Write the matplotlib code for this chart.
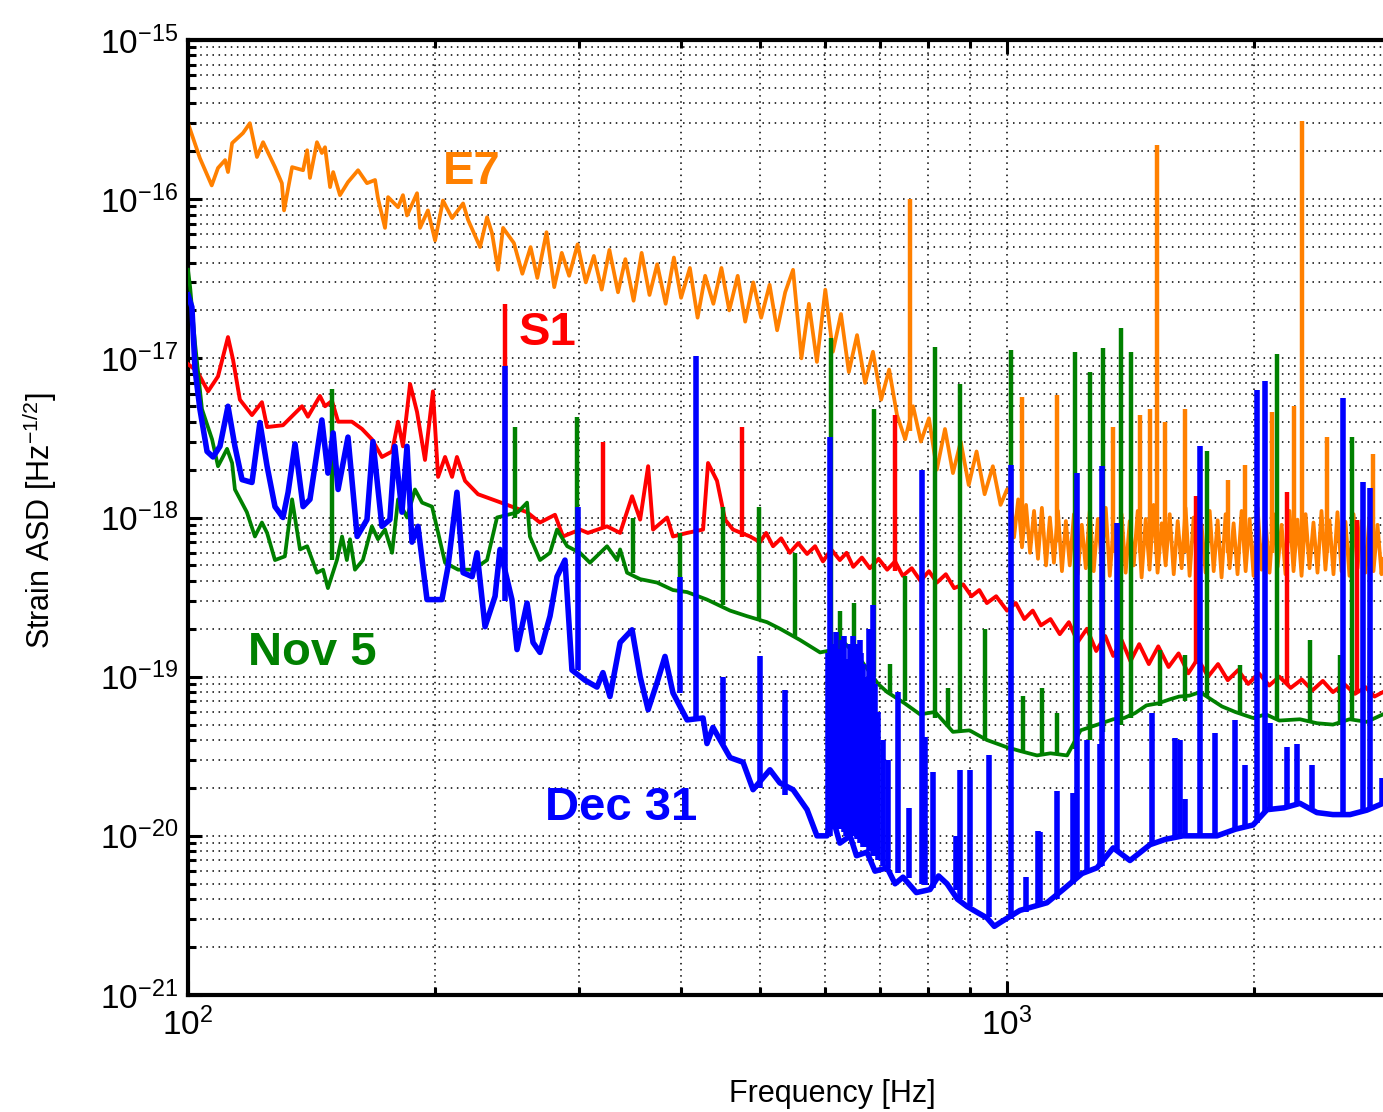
import matplotlib
matplotlib.use("Agg")
import matplotlib.pyplot as plt
from matplotlib.ticker import NullFormatter

plt.rcParams['font.family'] = ['Liberation Sans', 'DejaVu Sans']
plt.rcParams['mathtext.fontset'] = 'custom'
plt.rcParams['mathtext.rm'] = 'Liberation Sans'
plt.rcParams['mathtext.it'] = 'Liberation Sans:italic'
plt.rcParams['mathtext.bf'] = 'Liberation Sans:bold'
plt.rcParams['axes.unicode_minus'] = False

# ---- E7 (orange) ----
e7_freq = [100, 103.4, 106.9, 108.8, 111.0, 111.9, 113.2, 116.7, 119.0, 121.4, 123.5, 127.7,
           130.2, 131.0, 134.0, 138.2, 139.8, 140.9, 143.7, 145.7, 147.0, 149.1, 150.4, 153.3,
           156.8, 161.3, 165.4, 169.2, 170.6, 174.0, 175.5, 180.5, 183.0, 185.1, 190.4, 192.0,
           196.3, 200.3, 204.8, 210.1, 216.7, 219.8, 227.3, 231.8, 235.1, 239.1, 242.5,
           250, 256, 262, 267, 274, 280, 286, 292, 299, 306, 313, 320, 327, 335, 342, 350, 358,
           366, 374, 383, 392, 400, 410, 419, 428, 438, 448, 458, 469, 479, 490, 501, 513, 524,
           536, 548, 561, 573, 586, 600, 613, 627, 641, 656, 671, 686, 702, 718, 734, 751, 768,
           785, 803, 821, 840, 859, 878, 898, 918, 939, 961, 982, 1000,
           1009, 1020, 1032, 1043, 1055, 1067, 1079, 1091, 1103, 1116,
           1128, 1141, 1154, 1167, 1180, 1193, 1207, 1220, 1234, 1248,
           1262, 1276, 1291, 1305, 1320, 1335, 1350, 1365, 1380, 1396,
           1412, 1428, 1444, 1460, 1477, 1493, 1510, 1527, 1545, 1562,
           1580, 1598, 1616, 1634, 1652, 1671, 1690, 1709, 1728, 1748,
           1768, 1788, 1808, 1828, 1849, 1870, 1891, 1912, 1934, 1956,
           1978, 2000, 2023, 2046, 2069, 2092, 2116, 2140, 2164, 2188,
           2213, 2238, 2263, 2289, 2315, 2341, 2367, 2394, 2421, 2448,
           2476, 2504, 2532, 2561, 2590, 2619, 2649, 2679, 2709, 2739,
           2770, 2802, 2834, 2866, 2878]
e7_asd = [3.0e-16, 1.81e-16, 1.22e-16, 1.57e-16, 1.76e-16, 1.48e-16, 2.25e-16, 2.6e-16, 3.0e-16,
          1.84e-16, 2.28e-16, 1.59e-16, 1.26e-16, 8.5e-17, 1.59e-16, 1.52e-16, 2.03e-16, 1.36e-16,
          2.28e-16, 1.95e-16, 2.12e-16, 1.19e-16, 1.48e-16, 1.06e-16, 1.28e-16, 1.52e-16, 1.26e-16,
          1.32e-16, 1.01e-16, 6.6e-17, 1.03e-16, 8.9e-17, 1.06e-16, 7.9e-17, 1.09e-16, 6.6e-17,
          8.5e-17, 5.5e-17, 9.8e-17, 7.6e-17, 9.4e-17, 7.4e-17, 5.0e-17, 7.7e-17, 6.1e-17, 3.6e-17,
          6.6e-17,
          5.3e-17, 3.4e-17, 5.0e-17, 3.2e-17, 6.2e-17, 2.8e-17, 4.6e-17, 3.3e-17, 5.2e-17, 3.0e-17,
          4.4e-17, 2.7e-17, 4.8e-17, 2.6e-17, 4.2e-17, 2.3e-17, 4.6e-17, 2.5e-17, 3.9e-17, 2.2e-17,
          4.3e-17, 2.4e-17, 3.7e-17, 1.8e-17, 3.3e-17, 2.2e-17, 3.7e-17, 2.0e-17, 3.3e-17, 1.7e-17,
          3.0e-17, 1.8e-17, 2.9e-17, 1.5e-17, 2.6e-17, 3.6e-17, 1.0e-17, 2.2e-17, 9.5e-18, 2.7e-17,
          1.1e-17, 1.9e-17, 8.2e-18, 1.4e-17, 7.0e-18, 1.1e-17, 5.5e-18, 8.5e-18, 4.4e-18, 3.1e-18,
          5.0e-18, 3.0e-18, 4.2e-18, 2.0e-18, 3.6e-18, 1.9e-18, 3.0e-18, 1.6e-18, 2.6e-18, 1.4e-18,
          2.1e-18, 1.2e-18, 1.5e-18,
          1.5e-18, 7.5e-19, 1.3e-18, 6.5e-19, 1.2e-18, 6.0e-19, 1.1e-18, 5.5e-19, 1.15e-18, 5.0e-19,
          1.0e-18, 5.2e-19, 1.1e-18, 4.6e-19, 9.5e-19, 5.0e-19, 1.05e-18, 4.4e-19, 9.0e-19, 4.8e-19,
          1.1e-18, 4.6e-19, 9.8e-19, 5.2e-19, 1.15e-18, 4.3e-19, 9.0e-19, 4.8e-19, 1.05e-18, 4.5e-19,
          9.5e-19, 5.0e-19, 1.1e-18, 4.2e-19, 9.8e-19, 4.7e-19, 1.2e-18, 4.5e-19, 9.2e-19, 5.0e-19,
          1.05e-18, 4.4e-19, 9.5e-19, 4.8e-19, 1.15e-18, 4.3e-19, 1.0e-18, 5.0e-19, 9.0e-19, 4.5e-19,
          1.1e-18, 4.6e-19, 9.6e-19, 4.2e-19, 1.05e-18, 4.8e-19, 9.2e-19, 4.4e-19, 1.1e-18, 4.6e-19,
          9.8e-19, 4.3e-19, 1.15e-18, 4.7e-19, 9.5e-19, 4.5e-19, 1.05e-18, 4.9e-19, 9.0e-19, 4.4e-19,
          1.1e-18, 4.6e-19, 9.7e-19, 4.3e-19, 1.05e-18, 4.8e-19, 9.3e-19, 4.5e-19, 1.1e-18, 4.7e-19,
          9.6e-19, 4.4e-19, 1.08e-18, 4.6e-19, 9.4e-19, 4.3e-19, 1.05e-18, 4.8e-19, 9.5e-19, 4.5e-19,
          1.0e-18, 4.6e-19, 9.0e-19, 4.4e-19, 5.5e-19]
e7_line_freq = [761, 1043, 1151, 1348, 1454, 1495, 1525, 1560, 1649, 1862, 1951, 2106, 2243,
                2292, 2460, 2800]
e7_line_base = [3.5e-18, 9e-19, 7e-19, 6e-19, 6e-19, 6e-19, 6e-19, 6e-19, 6e-19, 6e-19, 6e-19,
                6e-19, 6e-19, 6e-19, 6e-19, 6e-19]
e7_line_top = [1.0e-16, 5.7e-18, 5.9e-18, 3.7e-18, 4.4e-18, 4.8e-18, 2.2e-16, 4.0e-18, 4.8e-18,
               1.73e-18, 2.15e-18, 4.6e-18, 5.0e-18, 3.1e-16, 3.2e-18, 2.5e-18]

# ---- S1 (red) ----
s1_freq = [100, 102.6, 105.8, 108.8, 111.9, 113.5, 115.7, 119.7, 123.1, 124.9, 130.6, 137.8,
           140.1, 144.9, 147.0, 149.9, 152.5, 158.5, 163.1, 167.7, 172.5, 177.5, 180.5, 183.0,
           186.7, 190.4, 194.7, 199.1, 202.0, 206.0, 210.1, 213.0, 217.9, 226.0, 239.1, 248.6,
           259.4, 269.0, 280.6, 287.0, 301.0, 307.8, 324.8, 337.0, 348.5, 356.5, 364.6, 369.7,
           384.6, 391.0, 406.8, 425.5, 431.5, 442.5, 452.6, 462.9, 485.6, 499.3,
           508, 518, 530, 543, 556, 570, 583, 596, 610, 625, 637, 649, 665, 680, 697, 714, 730,
           746, 765, 784, 803, 821, 842, 862, 884, 905, 925, 945, 970, 1000, 1025, 1050, 1075,
           1100, 1130, 1160, 1190, 1220, 1252, 1285, 1318, 1348, 1380, 1415, 1450, 1490, 1530,
           1575, 1620, 1665, 1710, 1760, 1810, 1860, 1915, 1970, 2030, 2090, 2150, 2220, 2290,
           2360, 2430, 2500, 2580, 2660, 2740, 2810, 2878]
s1_asd = [9.2e-18, 8.3e-18, 6.2e-18, 7.7e-18, 1.36e-17, 9.8e-18, 5.5e-18, 4.4e-18, 5.3e-18,
          3.7e-18, 3.8e-18, 5.0e-18, 4.3e-18, 5.8e-18, 5.0e-18, 5.4e-18, 4.0e-18, 4.0e-18, 3.6e-18,
          3.1e-18, 2.4e-18, 2.6e-18, 4.0e-18, 2.8e-18, 6.9e-18, 4.6e-18, 2.3e-18, 6.2e-18, 1.8e-18,
          2.4e-18, 1.8e-18, 2.4e-18, 1.7e-18, 1.4e-18, 1.26e-18, 1.17e-18, 1.08e-18, 9.3e-19,
          1.04e-18, 7.6e-19, 8.4e-19, 8.0e-19, 8.8e-19, 8.0e-19, 1.36e-18, 9.7e-19, 2.1e-18, 8.4e-19,
          1.0e-18, 7.6e-19, 8.0e-19, 8.4e-19, 2.2e-18, 1.7e-18, 9.7e-19, 8.4e-19, 7.6e-19, 7.0e-19,
          8.0e-19, 6.6e-19, 7.4e-19, 6.0e-19, 6.9e-19, 5.9e-19, 6.6e-19, 5.3e-19, 6.3e-19, 5.4e-19,
          6.0e-19, 4.9e-19, 5.6e-19, 4.8e-19, 5.5e-19, 4.7e-19, 5.3e-19, 4.3e-19, 4.8e-19, 4.0e-19,
          4.6e-19, 3.9e-19, 4.4e-19, 3.6e-19, 3.8e-19, 3.2e-19, 3.5e-19, 2.9e-19, 3.2e-19, 2.6e-19,
          2.9e-19, 2.3e-19, 2.6e-19, 2.1e-19, 2.3e-19, 1.85e-19, 2.2e-19, 1.65e-19, 2.0e-19,
          1.45e-19, 1.8e-19, 1.35e-19, 1.7e-19, 1.25e-19, 1.6e-19, 1.2e-19, 1.55e-19, 1.15e-19,
          1.4e-19, 1.05e-19, 1.3e-19, 1.0e-19, 1.2e-19, 9.5e-20, 1.1e-19, 9.0e-20, 1.05e-19,
          8.8e-20, 1.0e-19, 8.5e-20, 9.6e-20, 8.2e-20, 9.4e-20, 8.0e-20, 9.0e-20, 7.8e-20, 8.6e-20,
          7.5e-20, 8.0e-20]
s1_line_freq = [243.8, 321.1, 474.8, 730.1, 1702, 2198, 2676]
s1_line_base = [1.2e-18, 8.5e-19, 7.5e-19, 4.6e-19, 1.2e-19, 9.0e-20, 8.0e-20]
s1_line_top = [2.2e-17, 2.96e-18, 3.7e-18, 4.4e-18, 1.36e-18, 1.44e-18, 9.7e-19]

# ---- Nov 5 (green) ----
nov5_freq = [100, 100.6, 102.0, 104.0, 107.0, 108.8, 110.3, 111.6, 113.2, 114.1, 118.0, 120.7,
             123.1, 124.9, 127.7, 131.3, 134.0, 137.0, 139.8, 143.7, 146.2, 148.2, 152.0, 154.2,
             156.3, 157.7, 159.9, 163.5, 167.7, 170.6, 174.0, 177.5, 180.5, 185.1, 189.3, 193.1,
             198.6, 206.0, 213.7, 222.8, 231.8, 238.4, 252.8, 259.4, 261.5, 269.0, 276.7, 282.2,
             290.4, 301.0, 309.6, 324.8, 334.1, 337.0, 343.6, 356.5, 373.9, 391.0, 406.8, 430.2,
             459.1, 481.4, 509.3, 528.3, 558.8, 591.2, 616.6, 632.4, 661, 696, 714, 750, 783, 817,
             859, 900, 945, 1000, 1040, 1088, 1130, 1184, 1230, 1290, 1348, 1390, 1433, 1480, 1530,
             1580, 1622, 1670, 1721, 1775, 1830, 1900, 1997, 2070, 2150, 2279, 2390, 2500, 2620,
             2750, 2878]
nov5_asd = [3.6e-17, 2.8e-17, 1.24e-17, 4.8e-18, 3.1e-18, 2.1e-18, 2.4e-18, 2.7e-18, 2.2e-18,
            1.5e-18, 1.08e-18, 7.6e-19, 9.3e-19, 8.0e-19, 5.4e-19, 5.7e-19, 1.3e-18, 6.3e-19,
            6.6e-19, 4.5e-19, 4.7e-19, 3.6e-19, 5.4e-19, 7.6e-19, 5.4e-19, 7.3e-19, 4.7e-19, 5.4e-19,
            8.8e-19, 7.3e-19, 8.4e-19, 6.0e-19, 1.3e-18, 1.0e-18, 1.5e-18, 1.24e-18, 1.17e-18,
            5.2e-19, 4.7e-19, 4.7e-19, 5.4e-19, 1.0e-18, 1.08e-18, 1.24e-18, 7.6e-19, 5.4e-19,
            6.0e-19, 8.4e-19, 6.6e-19, 6.0e-19, 5.2e-19, 6.6e-19, 5.4e-19, 6.3e-19, 4.5e-19, 4.1e-19,
            3.9e-19, 3.5e-19, 3.4e-19, 3.05e-19, 2.6e-19, 2.4e-19, 2.2e-19, 2.0e-19, 1.7e-19,
            1.42e-19, 1.48e-19, 1.64e-19, 1.3e-19, 9.0e-20, 8.0e-20, 6.8e-20, 5.8e-20, 6.0e-20,
            4.5e-20, 4.6e-20, 4.0e-20, 3.6e-20, 3.4e-20, 3.2e-20, 3.3e-20, 3.2e-20, 4.6e-20, 5.0e-20,
            5.4e-20, 5.5e-20, 5.9e-20, 6.6e-20, 6.8e-20, 7.2e-20, 7.5e-20, 7.6e-20, 8.0e-20, 7.2e-20,
            6.5e-20, 6.0e-20, 5.5e-20, 5.8e-20, 5.3e-20, 5.4e-20, 5.1e-20, 5.0e-20, 5.4e-20, 5.2e-20,
            5.8e-20]
nov5_line_freq = [149.9, 250.7, 298.5, 349.5, 398.7, 450.1, 498.0, 551.1, 609.8, 625, 650.5, 688.1,
                  720, 750.9, 817.0, 847.2, 876.0, 940.0, 1011, 1046, 1103, 1151, 1211, 1263, 1310,
                  1379, 1418, 1538, 1649, 1755, 1925, 2137, 2344, 2551, 2638, 2775]
nov5_line_base = [5.4e-19, 1.0e-18, 6.0e-19, 4.5e-19, 3.4e-19, 2.8e-19, 2.3e-19, 1.8e-19, 1.45e-19,
                  1.45e-19, 1.3e-19, 1.0e-19, 8.0e-20, 7.0e-20, 5.5e-20, 4.8e-20, 4.5e-20, 4.0e-20,
                  3.5e-20, 3.3e-20, 3.2e-20, 3.2e-20, 3.5e-20, 4.0e-20, 4.5e-20, 5.0e-20, 5.5e-20,
                  6.5e-20, 7.0e-20, 7.5e-20, 5.8e-20, 5.4e-20, 5.2e-20, 5.0e-20, 5.3e-20, 5.5e-20]
nov5_line_top = [6.4e-18, 3.7e-18, 4.3e-18, 1.0e-18, 8.0e-19, 1.17e-18, 1.17e-18, 6.0e-19,
                 1.34e-17, 2.6e-19, 2.9e-19, 4.8e-18, 1.2e-19, 4.3e-19, 1.17e-17, 8.5e-20, 6.85e-18,
                 2.0e-19, 1.12e-17, 7.6e-20, 8.5e-20, 5.9e-20, 1.09e-17, 8.2e-18, 1.16e-17,
                 1.54e-17, 1.09e-17, 1.48e-19, 1.37e-19, 2.6e-18, 1.19e-19, 1.07e-17, 1.71e-19,
                 1.37e-19, 3.2e-18, 1.48e-19]

# ---- Dec 31 (blue) ----
dec31_freq = [100, 101.1, 102.0, 103.4, 105.5, 107.3, 109.4, 111.9, 114.1, 116.4, 119.7, 122.4,
              124.9, 127.7, 130.6, 132.5, 135.1, 138.2, 140.9, 145.7, 148.2, 150.4, 152.5, 156.8,
              160.9, 165.4, 168.2, 172.5, 176.4, 178.9, 182.5, 185.1, 187.7, 190.9, 195.8, 204.2,
              207.7, 213.0, 216.7, 222.3, 225.4, 230.5, 237.1, 240.4, 248.6, 252.2, 259.4, 263.8,
              269.0, 276.7, 282.2, 288.6, 294.3, 305.3, 315.8, 321.1, 327.5, 337.0, 348.5, 356.5,
              364.6, 373.9, 382.3, 391.0, 406.8, 425.5, 430.2, 437.5, 459.1, 476.1, 489.7, 513.5,
              528.0, 548.0, 570.0, 586.1, 602.9, 613.1, 625, 643.3, 655, 674.5, 690, 713.9, 730,
              746.5, 775, 805.4, 825, 844.8, 870, 893.9, 920, 945.4, 965, 985.9,
              1037, 1119, 1171, 1235, 1288, 1348, 1413, 1495, 1560, 1640, 1720,
              1805, 1900, 1997, 2077, 2180, 2279, 2390, 2500, 2623, 2750, 2878]
dec31_asd = [2.5e-17, 2.1e-17, 8.5e-18, 4.8e-18, 2.6e-18, 2.4e-18, 2.8e-18, 5.0e-18, 2.8e-18,
             1.73e-18, 1.66e-18, 3.95e-18, 2.1e-18, 1.17e-18, 1.0e-18, 1.44e-18, 2.9e-18, 1.17e-18,
             1.3e-18, 4.1e-18, 1.9e-18, 3.4e-18, 1.5e-18, 3.2e-18, 7.6e-19, 9.7e-19, 3.0e-18,
             8.8e-19, 9.7e-19, 2.8e-18, 1.08e-18, 2.8e-18, 7.0e-19, 8.8e-19, 3.05e-19, 3.05e-19,
             4.9e-19, 1.44e-18, 4.5e-19, 4.25e-19, 6.0e-19, 2.06e-19, 3.2e-19, 6.3e-19, 3.05e-19,
             1.48e-19, 2.9e-19, 1.64e-19, 1.42e-19, 2.4e-19, 4.25e-19, 5.4e-19, 1.1e-19, 9.5e-20,
             8.6e-20, 1.06e-19, 7.5e-20, 1.64e-19, 1.97e-19, 1.0e-19, 6.2e-20, 9.2e-20, 1.34e-19,
             7.9e-20, 5.35e-20, 5.5e-20, 3.8e-20, 4.8e-20, 3.1e-20, 2.9e-20, 1.95e-20, 2.6e-20,
             2.15e-20, 1.95e-20, 1.46e-20, 1.0e-20, 1.0e-20, 1.28e-20, 9.0e-21, 1.0e-20, 7.5e-21,
             7.9e-21, 6.0e-21, 6.3e-21, 5.0e-21,
             5.5e-21, 4.4e-21, 4.6e-21, 5.6e-21, 5.0e-21, 4.0e-21, 3.6e-21, 3.3e-21, 3.05e-21,
             2.7e-21, 2.9e-21,
             3.4e-21, 3.8e-21, 4.6e-21, 5.8e-21, 6.3e-21, 8.4e-21, 7.0e-21, 8.8e-21, 9.5e-21, 1.0e-20,
             1.0e-20, 1.0e-20, 1.1e-20, 1.17e-20, 1.46e-20, 1.5e-20, 1.6e-20, 1.4e-20, 1.36e-20,
             1.36e-20, 1.45e-20, 1.6e-20]
dec31_line_freq = [243.8, 299.4, 398.7, 417.2, 450.1, 499.3, 535.8, 604, 608.0, 611, 615, 618,
                   622, 625, 628.8, 632, 636, 640, 644, 648.6, 652, 655, 658, 661, 664, 668, 672,
                   678, 682, 686.2, 690, 695, 705, 716, 736.1, 760, 787.6, 794, 812, 866, 876.0,
                   901, 950, 1011, 1055, 1091, 1097, 1151, 1205, 1218, 1252, 1298, 1306, 1363,
                   1503, 1604, 1625, 1649, 1721, 1795, 1898, 1952, 2020, 2065, 2095, 2198, 2260,
                   2357, 2572, 2721, 2775, 2870]
dec31_line_base = [3.0e-19, 1.1e-19, 7.9e-20, 5.4e-20, 3.8e-20, 2.0e-20, 1.8e-20, 1.0e-20,
                   1.0e-20, 1.1e-20, 1.1e-20, 1.1e-20, 1.1e-20, 1.1e-20, 1.1e-20, 1.05e-20, 1.0e-20,
                   1.0e-20, 1.0e-20, 1.0e-20, 1.0e-20, 9.5e-21, 9.5e-21, 9.0e-21, 9.0e-21, 8.5e-21,
                   8.5e-21, 8.0e-21, 8.0e-21, 7.5e-21, 7.5e-21, 7.0e-21, 6.5e-21, 6.3e-21, 5.8e-21,
                   5.4e-21, 5.0e-21, 4.9e-21, 4.7e-21, 4.6e-21, 4.0e-21, 3.6e-21, 3.1e-21, 3.0e-21,
                   3.3e-21, 3.6e-21, 3.7e-21, 4.0e-21, 5.0e-21, 5.5e-21, 6.0e-21, 6.4e-21, 6.5e-21,
                   8.0e-21, 8.8e-21, 9.5e-21, 9.8e-21, 1.0e-20, 1.0e-20, 1.0e-20, 1.1e-20, 1.15e-20,
                   1.2e-20, 1.4e-20, 1.45e-20, 1.55e-20, 1.6e-20, 1.5e-20, 1.36e-20, 1.4e-20,
                   1.45e-20, 1.55e-20]
dec31_line_top = [8.9e-18, 1.17e-18, 4.25e-19, 1.04e-17, 1.0e-19, 1.34e-19, 8.3e-20, 1.4e-19,
                  3.2e-18, 1.6e-19, 1.3e-19, 1.9e-19, 1.5e-19, 1.4e-19, 1.7e-19, 1.8e-19, 1.3e-19,
                  1.2e-19, 1.6e-19, 1.8e-19, 1.5e-19, 1.6e-19, 1.2e-19, 1.7e-19, 1.4e-19, 1.2e-19,
                  1.0e-19, 2.0e-19, 1.3e-19, 2.8e-19, 9.0e-20, 6.0e-20, 4.0e-20, 3.0e-20, 8.0e-20,
                  1.5e-20, 2.0e-18, 4.2e-20, 2.5e-20, 1.0e-20, 2.6e-20, 2.6e-20, 3.2e-20, 2.15e-18,
                  5.5e-21, 1.07e-20, 1.06e-20, 1.9e-20, 1.86e-20, 1.9e-18, 4.0e-20, 3.8e-20,
                  2.1e-18, 9.2e-19, 5.9e-20, 4.1e-20, 4.0e-20, 1.7e-20, 2.8e-18, 4.4e-20, 5.35e-20,
                  2.8e-20, 6.3e-18, 7.25e-18, 5.1e-20, 3.6e-20, 3.8e-20, 2.8e-20, 5.6e-18, 1.66e-18,
                  1.54e-18, 2.3e-20]

fig = plt.figure(figsize=(13.83, 11.12), dpi=100)
ax = fig.add_axes([188 / 1383, 117 / 1112, 1195 / 1383, 955 / 1112])

# 곡선 그리기 (뒤에서 앞으로)
ax.plot(e7_freq, e7_asd, color='#FF8000', lw=2.7, zorder=2)
ax.vlines(e7_line_freq, e7_line_base, e7_line_top, colors='#FF8000', lw=3.2, zorder=2)
ax.plot(s1_freq, s1_asd, color='#FF0000', lw=2.8, zorder=3)
ax.vlines(s1_line_freq, s1_line_base, s1_line_top, colors='#FF0000', lw=3.2, zorder=3)
ax.plot(nov5_freq, nov5_asd, color='#008000', lw=2.7, zorder=4)
ax.vlines(nov5_line_freq, nov5_line_base, nov5_line_top, colors='#008000', lw=3.2, zorder=4)
ax.plot(dec31_freq, dec31_asd, color='#0000FF', lw=4.0, zorder=5)
ax.vlines(dec31_line_freq, dec31_line_base, dec31_line_top, colors='#0000FF', lw=4.0, zorder=5)

ax.set_xscale('log')
ax.set_yscale('log')
ax.set_xlim(100, 2878)
ax.set_ylim(1e-21, 1e-15)
ax.set_xticks([100, 1000])
ax.set_yticks([1e-21, 1e-20, 1e-19, 1e-18, 1e-17, 1e-16, 1e-15])
ax.xaxis.set_minor_formatter(NullFormatter())
ax.yaxis.set_minor_formatter(NullFormatter())

ax.grid(True, which='both', color='k', linestyle=(0, (1, 3)), linewidth=1.1)
ax.set_axisbelow(True)

for side in ['left', 'bottom', 'top']:
    ax.spines[side].set_linewidth(3)
ax.spines['right'].set_visible(False)
ax.tick_params(which='both', direction='in', top=True, right=False, width=2.2)
ax.tick_params(which='major', length=10, labelsize=24)
ax.tick_params(which='minor', length=6)
ax.tick_params(axis='x', which='major', pad=9)
ax.tick_params(axis='y', which='major', pad=7)

ax.set_xlabel('Frequency [Hz]', fontsize=22)
ax.set_ylabel('Strain ASD [Hz$^{-1/2}$]', fontsize=22)
ax.xaxis.set_label_coords(0.539, -0.088)
ax.yaxis.set_label_coords(-0.108, 0.497)

# 곡선 이름
ax.text(222, 1.48e-16, 'E7', color='#FF8000', fontsize=34, fontweight='bold', ha='center', va='center')
ax.text(275, 1.45e-17, 'S1', color='#FF0000', fontsize=34, fontweight='bold', ha='center', va='center')
ax.text(142, 1.41e-19, 'Nov 5', color='#008000', fontsize=34, fontweight='bold', ha='center', va='center')
ax.text(338, 1.5e-20, 'Dec 31', color='#0000FF', fontsize=34, fontweight='bold', ha='center', va='center')

fig.savefig('out.png', dpi=100)
